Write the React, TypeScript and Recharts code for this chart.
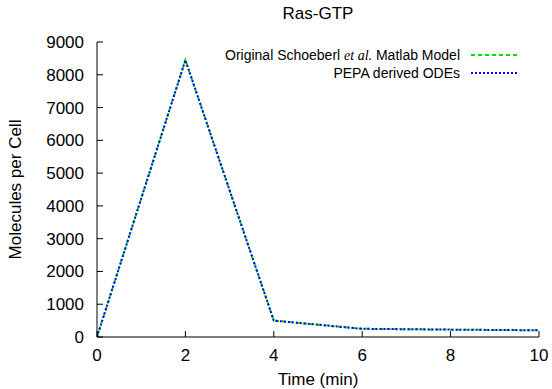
import { LineChart, Line, XAxis, YAxis, Legend, Label } from 'recharts';

// Ras-GTP time course
const TIME_MIN = [0, 2, 4, 6, 8, 10];
const SCHOEBERL_MATLAB = [0, 8450, 500, 250, 225, 205];
const PEPA_ODES = [0, 8450, 500, 250, 225, 205];

const X_TICKS = [0, 2, 4, 6, 8, 10];
const Y_TICKS = [0, 1000, 2000, 3000, 4000, 5000, 6000, 7000, 8000, 9000];

const GREEN = '#00e000';
const BLUE = '#0000ff';
const TICK_LEN = 6;
const AXIS_FONT = 17;
const KEY_FONT = 14;
const FONT = '"Liberation Sans", Arial, Helvetica, sans-serif';

const data = TIME_MIN.map((t, i) => ({
    t,
    matlab: SCHOEBERL_MATLAB[i],
    pepa: PEPA_ODES[i],
}));

// gnuplot style: ticks point into the plot, labels outside
function BottomTick({ x, y, payload }: any) {
    return (
        <g>
            <line x1={x} y1={y} x2={x} y2={y - TICK_LEN} stroke="#000" />
            <text x={x} y={y + 24} textAnchor="middle" fontSize={AXIS_FONT} fontFamily={FONT} fill="#000">
                {payload.value}
            </text>
        </g>
    );
}

function TopTick({ x, y }: any) {
    return <line x1={x} y1={y} x2={x} y2={y + TICK_LEN} stroke="#000" />;
}

function LeftTick({ x, y, payload }: any) {
    return (
        <g>
            <line x1={x} y1={y} x2={x + TICK_LEN} y2={y} stroke="#000" />
            <text x={x - 13} y={y + 6} textAnchor="end" fontSize={AXIS_FONT} fontFamily={FONT} fill="#000">
                {payload.value}
            </text>
        </g>
    );
}

function RightTick({ x, y }: any) {
    return <line x1={x} y1={y} x2={x - TICK_LEN} y2={y} stroke="#000" />;
}

function YTitle({ viewBox }: any) {
    const cx = viewBox.x + 21;
    const cy = viewBox.y + viewBox.height / 2;
    return (
        <text x={cx} y={cy} transform={`rotate(-90 ${cx} ${cy})`} textAnchor="middle"
            fontSize={AXIS_FONT} fontFamily={FONT} fill="#000">
            Molecules per Cell
        </text>
    );
}

function XTitle({ viewBox }: any) {
    const cx = viewBox.x + viewBox.width / 2;
    return (
        <text x={cx} y={viewBox.y + 48} textAnchor="middle" fontSize={AXIS_FONT} fontFamily={FONT} fill="#000">
            Time (min)
        </text>
    );
}

function legendLabel(key: string) {
    if (key === 'matlab') {
        return (
            <>
                Original Schoeberl{' '}
                <i style={{ fontFamily: '"Liberation Serif", "Times New Roman", serif' }}>et al.</i>
                {' '}Matlab Model
            </>
        );
    }
    return 'PEPA derived ODEs';
}

function GnuplotLegend({ payload }: any) {
    return (
        <div style={{ fontFamily: FONT, fontSize: KEY_FONT, color: '#000' }}>
            {(payload || []).map((entry: any) => (
                <div key={entry.dataKey}
                    style={{ display: 'flex', justifyContent: 'flex-end', alignItems: 'center', height: 18 }}>
                    <span style={{ whiteSpace: 'nowrap' }}>{legendLabel(entry.dataKey)}</span>
                    <svg width={46} height={4} style={{ marginLeft: 11, display: 'block' }}>
                        <line x1={0} y1={2} x2={46} y2={2} stroke={entry.color} strokeWidth={2}
                            strokeDasharray={entry.payload?.strokeDasharray} />
                    </svg>
                </div>
            ))}
        </div>
    );
}

export default function App() {
    return (
        <div style={{ position: 'absolute', left: 0, top: 0, width: 552, height: 389, background: '#fff', fontFamily: FONT }}>
            <div style={{ position: 'absolute', left: 218, width: 200, top: 4, textAlign: 'center', fontSize: AXIS_FONT, lineHeight: '20px' }}>
                Ras-GTP
            </div>
            <LineChart width={552} height={389} data={data} margin={{ top: 42, right: 13, bottom: 0, left: 0 }}>
                <XAxis dataKey="t" type="number" domain={[0, 10]} ticks={X_TICKS} interval={0} allowDataOverflow
                    height={52} tickSize={0} tickMargin={0} tick={<BottomTick />}
                    axisLine={{ stroke: '#000', strokeWidth: 1 }}>
                    <Label content={<XTitle />} />
                </XAxis>
                <XAxis xAxisId="top" orientation="top" dataKey="t" type="number" domain={[0, 10]} ticks={X_TICKS}
                    interval={0} allowDataOverflow height={0} tickSize={0} tickMargin={0} tick={<TopTick />}
                    axisLine={{ stroke: '#000', strokeWidth: 1 }} />
                <YAxis type="number" domain={[0, 9000]} ticks={Y_TICKS} interval={0} allowDataOverflow
                    width={97} tickSize={0} tickMargin={0} tick={<LeftTick />}
                    axisLine={{ stroke: '#000', strokeWidth: 1 }}>
                    <Label content={<YTitle />} />
                </YAxis>
                <YAxis yAxisId="r" orientation="right" type="number" domain={[0, 9000]} ticks={Y_TICKS} interval={0}
                    allowDataOverflow width={0} tickSize={0} tickMargin={0} tick={<RightTick />}
                    axisLine={{ stroke: '#000', strokeWidth: 1 }} />
                <Legend layout="horizontal" verticalAlign="middle" align="center" content={<GnuplotLegend />}
                    wrapperStyle={{ position: 'absolute', left: 200, top: 46, width: 317 }} />
                <Line type="linear" dataKey="matlab" name="Original Schoeberl et al. Matlab Model" stroke={GREEN}
                    strokeWidth={2} strokeDasharray="4 3" dot={false} activeDot={false} isAnimationActive={false} />
                <Line type="linear" dataKey="pepa" name="PEPA derived ODEs" stroke={BLUE}
                    strokeWidth={2} strokeDasharray="2 2" dot={false} activeDot={false} isAnimationActive={false} />
            </LineChart>
        </div>
    );
}
